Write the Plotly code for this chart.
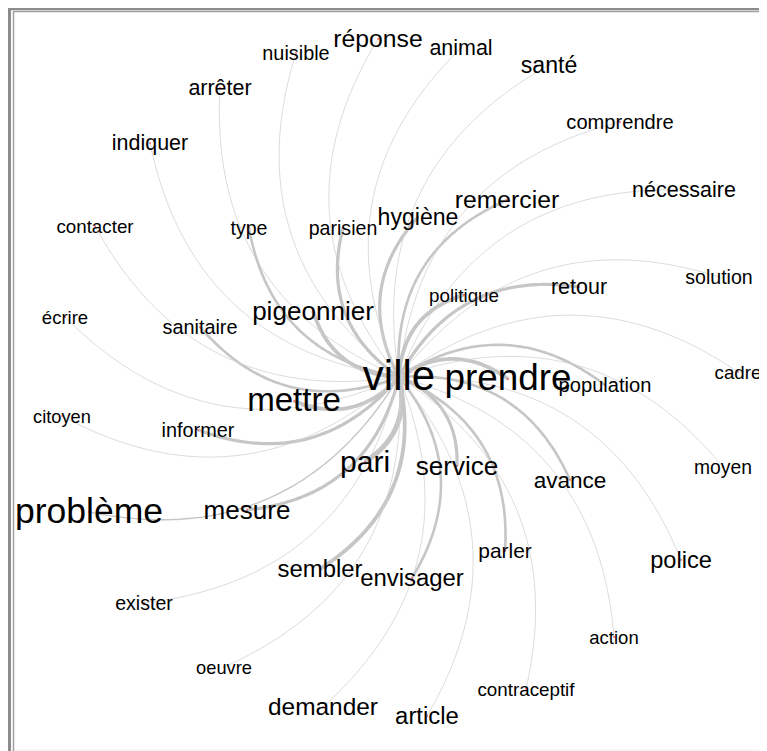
import numpy as np
import plotly.graph_objects as go

# ---------------- data ----------------
hub = "ville"
words = ["ville", "prendre", "problème", "mettre", "pari", "service", "pigeonnier", "mesure",
         "remercier", "réponse", "envisager", "sembler", "demander", "article", "police",
         "hygiène", "santé", "avance", "indiquer", "nécessaire", "retour", "arrêter", "animal",
         "parler", "comprendre", "population", "sanitaire", "nuisible", "informer", "parisien",
         "type", "solution", "exister", "moyen", "contraceptif", "politique", "contacter",
         "cadre", "écrire", "action", "oeuvre", "citoyen"]
# node layout coordinates (graph layout)
node_x = [399, 508, 89, 294, 365, 457, 313, 247,
          507, 378, 412, 320, 323, 427, 681,
          418, 549, 570, 150, 684, 579, 220, 461,
          505, 620, 605, 200, 296, 198, 343,
          249, 719, 144, 723, 526, 464, 95,
          738, 65, 614, 224, 62]
node_y = [377, 379, 512, 401, 462, 466, 311, 510,
          200, 39, 578, 569, 707, 716, 560,
          217, 65, 480, 143, 190, 287, 88, 48,
          551, 122, 385, 327, 53, 430, 228,
          228, 277, 603, 467, 689, 295, 226,
          372, 317, 637, 667, 416]
# word frequency
freq = [100, 81, 76, 67, 56, 41, 41, 41,
        36, 36, 33, 33, 35, 33, 32,
        30, 30, 28, 24, 24, 24, 24, 24,
        22, 19, 19, 18, 18, 18, 17,
        17, 17, 17, 16, 14, 14, 14,
        14, 13, 13, 12, 12]
# co-occurrence weight of each word with the hub word
cooc = [0, 6, 2, 6, 8, 5, 6, 5,
        4, 1, 4, 6, 1, 1, 1,
        5, 1, 4, 1, 1, 5, 1, 1,
        4, 1, 4, 4, 1, 5, 5,
        4, 1, 1, 1, 1, 6, 1,
        1, 1, 1, 1, 1]

# ---------------- figure ----------------
fig = go.Figure()

hi = words.index(hub)
P0 = np.array([node_x[hi], node_y[hi]], dtype=float)
t = np.linspace(0, 1, 60)[:, None]
bend = 0.35

for i, w in enumerate(words):
    if i == hi:
        continue
    P2 = np.array([node_x[i], node_y[i]], dtype=float)
    d = P2 - P0
    C = (P0 + P2) / 2 + bend * np.array([d[1], -d[0]])
    pts = (1 - t) ** 2 * P0 + 2 * (1 - t) * t * C + t ** 2 * P2
    wgt = cooc[i]
    fig.add_trace(go.Scatter(
        x=pts[:, 0], y=pts[:, 1], mode="lines",
        line=dict(color="#c6c6c6" if wgt > 1 else "#d2d2d2",
                  width=0.8 + (wgt - 1) * 0.6, shape="spline"),
        hoverinfo="skip", showlegend=False, cliponaxis=False))

fig.add_trace(go.Scatter(
    x=node_x, y=node_y, mode="markers",
    marker=dict(size=1.5, color="red"),
    hoverinfo="skip", showlegend=False, cliponaxis=False))

TEXT_DY = 2  # small baseline correction for the label font
fig.add_trace(go.Scatter(
    x=node_x, y=[v + TEXT_DY for v in node_y], mode="text", text=words,
    textposition="middle center",
    textfont=dict(family="Liberation Sans, Arial, sans-serif", color="black",
                  size=[15 + 0.27 * f for f in freq]),
    hoverinfo="text", showlegend=False, cliponaxis=False))

# page has an 8px body margin: the figure fills the rest of the 767x751 window
OFF = 8
W, H = 767, 751
shapes = [
    dict(type="line", x0=9.5, x1=W + 5, y0=9, y1=9, line=dict(color="#8c8c8c", width=2.5)),
    dict(type="line", x0=9.5, x1=9.5, y0=8, y1=H + 5, line=dict(color="#8c8c8c", width=3)),
    dict(type="line", x0=13, x1=W + 5, y0=11.5, y1=11.5, line=dict(color="#a0a0a0", width=1.5)),
    dict(type="line", x0=13.5, x1=13.5, y0=11, y1=H + 5, line=dict(color="#a0a0a0", width=1.5)),
    dict(type="line", x0=14, x1=W + 5, y0=750, y1=750, line=dict(color="#ececec", width=1)),
]
for s in shapes:
    s.update(xref="x", yref="y", layer="above")

fig.update_layout(
    width=W - OFF, height=H - OFF,
    margin=dict(l=0, r=0, t=0, b=0),
    paper_bgcolor="white", plot_bgcolor="white",
    xaxis=dict(range=[OFF, W], visible=False, fixedrange=True),
    yaxis=dict(range=[H, OFF], visible=False, fixedrange=True),
    shapes=shapes,
    showlegend=False,
)

fig.write_html("out.html", config={"displayModeBar": False})
